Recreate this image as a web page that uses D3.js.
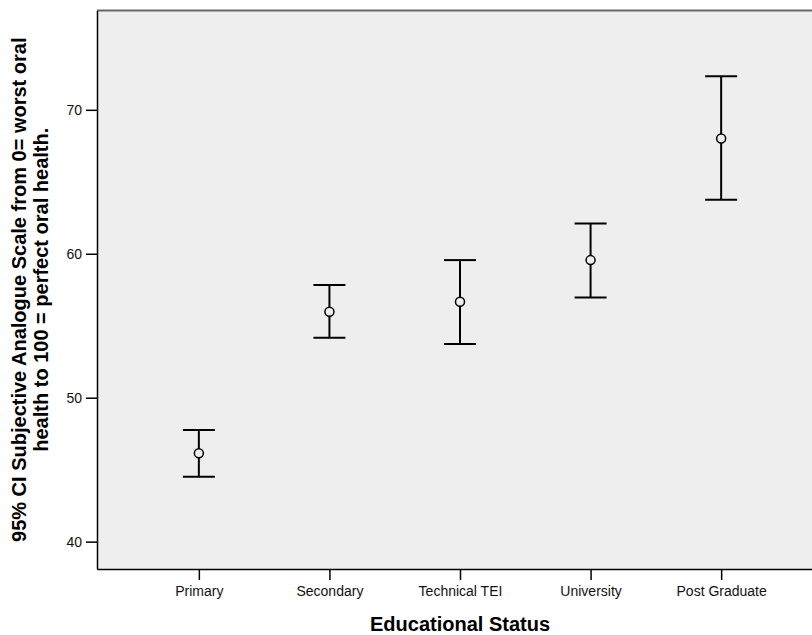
<!DOCTYPE html>
<html>
<head>
<meta charset="utf-8">
<script src="https://cdn.jsdelivr.net/npm/d3@7"></script>
<style>
  body { margin: 0; background: #fff; }
  text { font-family: Arial, "Liberation Sans", sans-serif; }
</style>
</head>
<body>
<div id="chart"></div>
<script>
// categories and 95% CI values
const categories = ['Primary', 'Secondary', 'Technical TEI', 'University', 'Post Graduate'];
const means = [46.14, 55.97, 56.67, 59.56, 68.01];
const lower = [44.51, 54.17, 53.73, 56.97, 63.75];
const upper = [47.76, 57.83, 59.56, 62.11, 72.34];
const yTicks = [40, 50, 60, 70];

const data = categories.map((c, i) => ({ cat: c, mean: means[i], lo: lower[i], hi: upper[i] }));

const width = 812, height = 635;
// the plot runs past the right edge of the picture, as in the original
const margin = { top: 10.5, right: -11, bottom: 66, left: 97 };

const svg = d3.select('#chart')
  .append('svg')
  .attr('width', width)
  .attr('height', height);

const x = d3.scalePoint()
  .domain(categories)
  .range([margin.left, width - margin.right])
  .padding(0.78);

const y = d3.scaleLinear()
  .domain([38.1, 76.9])
  .range([height - margin.bottom, margin.top]);

// plot background
svg.append('rect')
  .attr('x', margin.left)
  .attr('y', margin.top)
  .attr('width', width - margin.right - margin.left)
  .attr('height', height - margin.bottom - margin.top)
  .attr('fill', '#eeeeee');

// top border
svg.append('line')
  .attr('x1', margin.left).attr('x2', width)
  .attr('y1', margin.top).attr('y2', margin.top)
  .attr('stroke', '#666').attr('stroke-width', 2);

const yAxis = g => g
  .attr('transform', `translate(${margin.left},0)`)
  .call(d3.axisLeft(y).tickValues(yTicks).tickSize(11).tickPadding(4).tickSizeOuter(0))
  .call(g => g.selectAll('text').attr('font-size', 14).attr('fill', '#111'))
  .call(g => g.selectAll('line, path').attr('stroke', '#000').attr('stroke-width', 1.5));

const xAxis = g => g
  .attr('transform', `translate(0,${height - margin.bottom})`)
  .call(d3.axisBottom(x).tickSize(11).tickPadding(6).tickSizeOuter(0))
  .call(g => g.selectAll('text').attr('font-size', 14).attr('fill', '#111'))
  .call(g => g.selectAll('line, path').attr('stroke', '#000').attr('stroke-width', 1.5));

svg.append('g').call(yAxis);
svg.append('g').call(xAxis);

// error bars
const bars = svg.append('g')
  .selectAll('g')
  .data(data)
  .join('g');

bars.append('line')
  .attr('x1', d => x(d.cat)).attr('x2', d => x(d.cat))
  .attr('y1', d => y(d.lo)).attr('y2', d => y(d.hi))
  .attr('stroke', '#000').attr('stroke-width', 2);

bars.selectAll('.cap')
  .data(d => [d.lo, d.hi].map(v => ({ cat: d.cat, v })))
  .join('line')
  .attr('class', 'cap')
  .attr('x1', d => x(d.cat) - 16).attr('x2', d => x(d.cat) + 16)
  .attr('y1', d => y(d.v)).attr('y2', d => y(d.v))
  .attr('stroke', '#000').attr('stroke-width', 2);

bars.append('circle')
  .attr('cx', d => x(d.cat))
  .attr('cy', d => y(d.mean))
  .attr('r', 4.5)
  .attr('fill', '#eeeeee')
  .attr('stroke', '#000')
  .attr('stroke-width', 1.5);

// axis titles
svg.append('text')
  .attr('x', (margin.left + width - margin.right) / 2)
  .attr('y', 631)
  .attr('text-anchor', 'middle')
  .attr('font-size', 20)
  .attr('font-weight', 'bold')
  .text('Educational Status');

const yTitle = svg.append('text')
  .attr('transform', `translate(0,${(margin.top + height - margin.bottom) / 2}) rotate(-90)`)
  .attr('text-anchor', 'middle')
  .attr('font-size', 20)
  .attr('font-weight', 'bold');

yTitle.append('tspan').attr('x', 0).attr('y', 26)
  .text('95% CI Subjective Analogue Scale from 0= worst oral');
yTitle.append('tspan').attr('x', 0).attr('y', 48)
  .text('health to 100 = perfect oral health.');
</script>
</body>
</html>
